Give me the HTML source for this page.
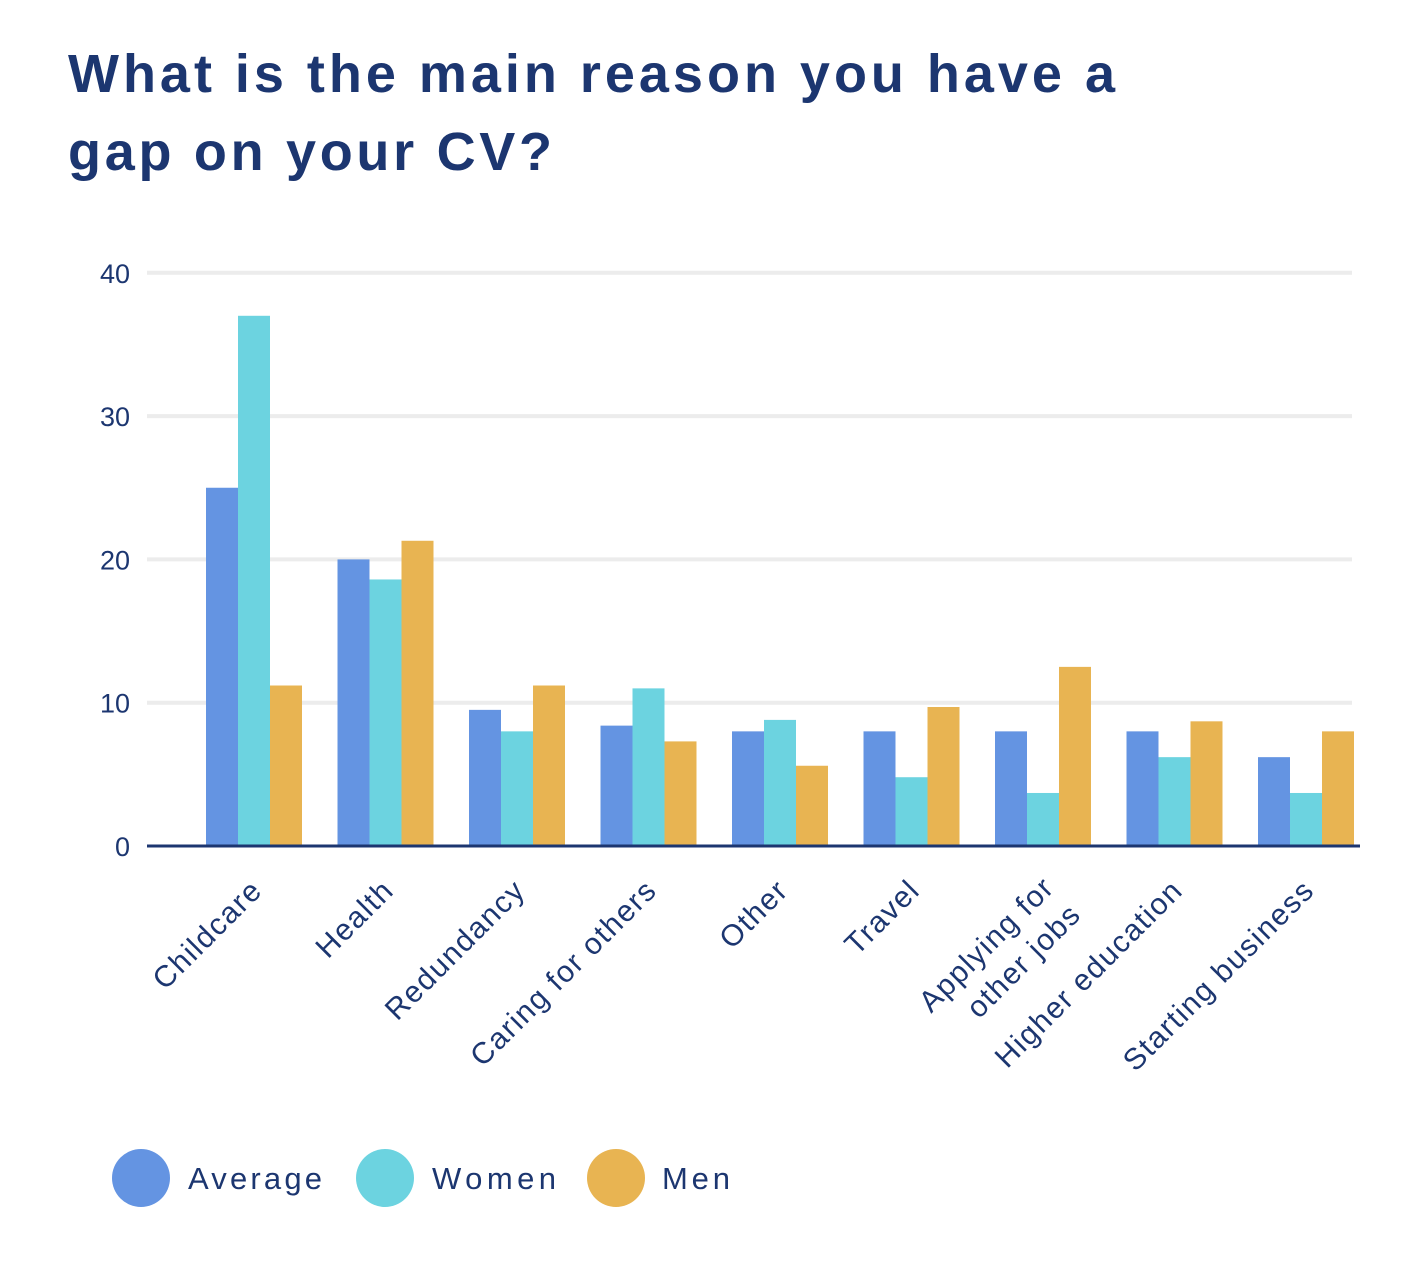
<!DOCTYPE html>
<html><head><meta charset="utf-8"><style>
body{margin:0;background:#fff;}
svg text{font-family:"Liberation Sans",sans-serif;fill:#1c3670;}
</style></head><body>
<svg width="1420" height="1258" viewBox="0 0 1420 1258" id="chart">
<text x="68" y="92" font-size="54" font-weight="bold" textLength="1047" lengthAdjust="spacing">What is the main reason you have a</text>
<text x="68" y="170" font-size="54" font-weight="bold" textLength="484" lengthAdjust="spacing">gap on your CV?</text>
<g id="grid"></g><g id="bars"></g><g id="xlabels"></g>
<line x1="147" y1="846" x2="1360" y2="846" stroke="#1c3670" stroke-width="3"/>
<g>
<circle cx="141" cy="1178" r="29" fill="#6494e2"/>
<text x="188" y="1189" font-size="31" textLength="134" lengthAdjust="spacing">Average</text>
<circle cx="385" cy="1178" r="29" fill="#6cd3e0"/>
<text x="432" y="1189" font-size="31" textLength="124" lengthAdjust="spacing">Women</text>
<circle cx="616" cy="1178" r="29" fill="#e8b452"/>
<text x="662" y="1189" font-size="31" textLength="68" lengthAdjust="spacing">Men</text>
</g>
</svg>
<script>
const categories=["Childcare","Health","Redundancy","Caring for others","Other","Travel","Applying for|other jobs","Higher education","Starting business"];
const average=[25,20,9.5,8.4,8,8,8,8,6.2];
const women=[37,18.6,8,11,8.8,4.8,3.7,6.2,3.7];
const men=[11.2,21.3,11.2,7.3,5.6,9.7,12.5,8.7,8];
const ticks=[0,10,20,30,40];
const NS="http://www.w3.org/2000/svg";
const y0=846,pxPer=14.33;
function y(v){return y0-v*pxPer;}
function gx(i){return 206+i*131.5;}
const bw=32;
function mk(t,a){const e=document.createElementNS(NS,t);for(const k in a)e.setAttribute(k,a[k]);return e;}
const grid=document.getElementById('grid');
ticks.forEach(t=>{
  if(t>0){const l=mk('line',{x1:147,x2:1352,y1:y(t),y2:y(t),stroke:'#ececec','stroke-width':4});
  
  
  grid.appendChild(l);}
  const tx=mk('text',{x:130,y:y(t)+10,'font-size':27,'text-anchor':'end'});
  tx.textContent=t;
  
  
  grid.appendChild(tx);
});
const bars=document.getElementById('bars');
const series=[[average,'#6494e2','average'],[women,'#6cd3e0','women'],[men,'#e8b452','men']];
categories.forEach((c,i)=>{
  series.forEach((s,j)=>{
    const v=s[0][i];
    const r=mk('rect',{x:gx(i)+j*bw,y:y(v),width:bw,height:v*pxPer,fill:s[1]});
    
    
    bars.appendChild(r);
  });
  const cx=gx(i)+58,cy=892;
  const t=mk('text',{transform:`translate(${cx},${cy}) rotate(-45)`,'font-size':30,'letter-spacing':1.5,'text-anchor':'end'});
  const parts=c.split('|');
  parts.forEach((p,k)=>{const ts=mk('tspan',{x:0,dy:k?38:0});ts.textContent=p;t.appendChild(ts);});
  if(parts.length>1)t.setAttribute('transform',`translate(${cx},${cy}) rotate(-45) translate(4,0)`);
  
  
  document.getElementById('xlabels').appendChild(t);
});
</script>
</body></html>
